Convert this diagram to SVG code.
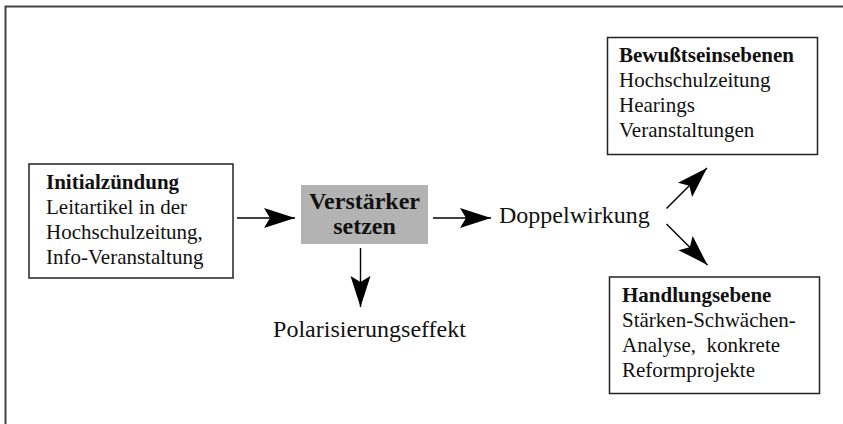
<svg xmlns="http://www.w3.org/2000/svg" width="843" height="424" viewBox="0 0 843 424">
  <style>
    .box { fill: #ffffff; stroke: #222222; stroke-width: 1.5; }
    .hub { fill: #b3b3b3; stroke: none; }
    .t { font-family: "Liberation Serif", "Times New Roman", serif; font-size: 21px; fill: #111111; }
    .b { font-weight: bold; }
    .big { font-family: "Liberation Serif", "Times New Roman", serif; font-size: 24px; fill: #111111; }
    .link { stroke: #000000; stroke-width: 1.4; fill: none; marker-end: url(#head); }
  </style>
  <defs>
    <marker id="head" markerUnits="userSpaceOnUse" markerWidth="34" markerHeight="24" viewBox="-32 -11 34 22" refX="0" refY="0" orient="auto">
      <path d="M0,0 L-31,-10 L-25,0 L-31,10 Z" fill="#000000"/>
    </marker>
  </defs>

  <rect width="843" height="424" fill="#ffffff"/>
  <!-- outer frame (top and left edges) -->
  <path d="M5.5,424 L5.5,6.5 L843,6.5" fill="none" stroke="#444444" stroke-width="2"/>

  <g id="initialzuendung">
    <rect class="box" x="29" y="164" width="204" height="114"/>
    <text class="t b" x="46" y="189">Initialzündung</text>
    <text class="t" x="46" y="214">Leitartikel in der</text>
    <text class="t" x="46" y="239">Hochschulzeitung,</text>
    <text class="t" x="46" y="264">Info-Veranstaltung</text>
  </g>

  <g id="verstaerker">
    <rect class="hub" x="301" y="185" width="127" height="59"/>
    <text class="big b" x="364.5" y="209" text-anchor="middle" font-size="24.5">Verstärker</text>
    <text class="big b" x="364.5" y="234" text-anchor="middle" font-size="24.5">setzen</text>
  </g>

  <g id="doppelwirkung">
    <text class="big" x="499" y="223">Doppelwirkung</text>
  </g>

  <g id="polarisierung">
    <text class="big" x="369.5" y="337" text-anchor="middle">Polarisierungseffekt</text>
  </g>

  <g id="bewusstseinsebenen">
    <rect class="box" x="607.5" y="37.5" width="210" height="117"/>
    <text class="t b" x="619" y="62">Bewußtseinsebenen</text>
    <text class="t" x="619" y="87">Hochschulzeitung</text>
    <text class="t" x="619" y="112">Hearings</text>
    <text class="t" x="619" y="137">Veranstaltungen</text>
  </g>

  <g id="handlungsebene">
    <rect class="box" x="609.5" y="277" width="210" height="116.5"/>
    <text class="t b" x="622" y="302">Handlungsebene</text>
    <text class="t" x="622" y="327">Stärken-Schwächen-</text>
    <text class="t" x="622" y="352" xml:space="preserve">Analyse,  konkrete</text>
    <text class="t" x="622" y="377">Reformprojekte</text>
  </g>

  <g id="connectors">
    <line class="link" x1="237" y1="218" x2="295" y2="218"/>
    <line class="link" x1="433" y1="218" x2="491" y2="218"/>
    <line class="link" x1="360.5" y1="248" x2="360.5" y2="307"/>
    <line class="link" x1="666.5" y1="208.5" x2="707" y2="168"/>
    <line class="link" x1="666.5" y1="224" x2="707.5" y2="265"/>
  </g>
</svg>
